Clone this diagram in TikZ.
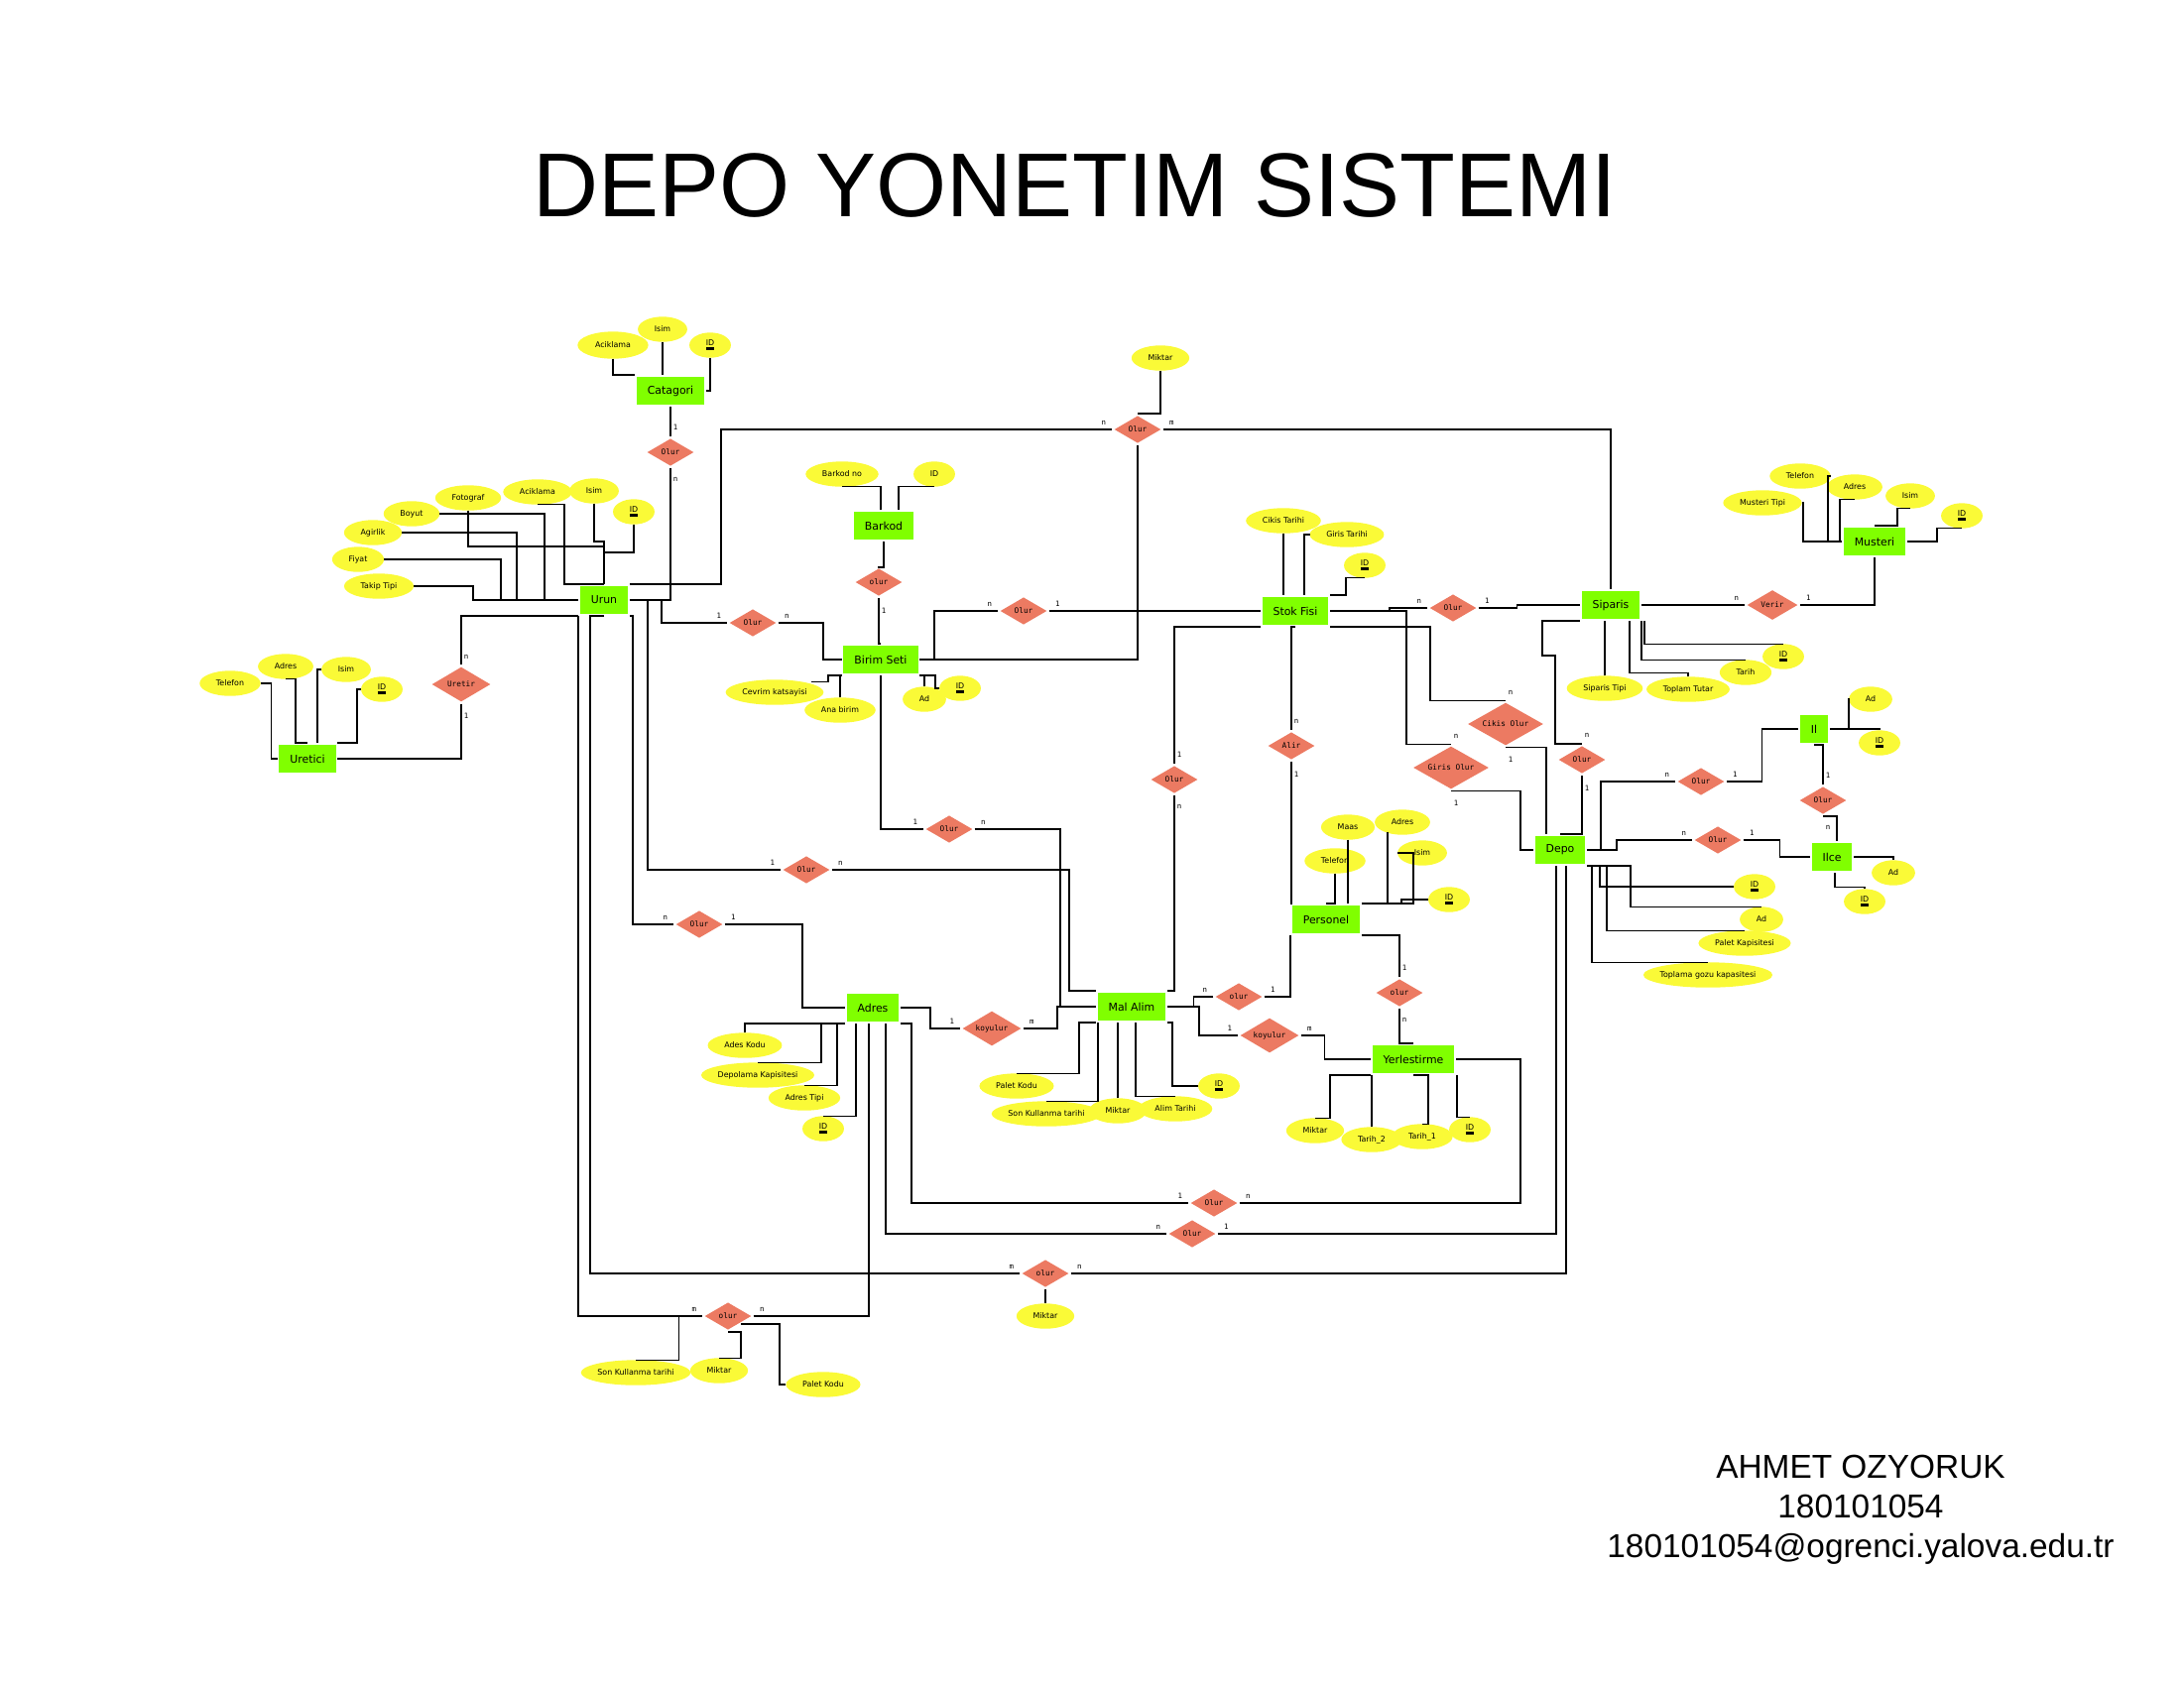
\documentclass[tikz,border=0pt]{standalone}
\usepackage{fontspec}
\setmainfont{Liberation Sans}
\newfontfamily\dejavu{DejaVu Sans}
\newfontfamily\dejamono{DejaVu Sans Mono}
\usetikzlibrary{shapes.geometric,positioning,calc,backgrounds}

\definecolor{entgreen}{RGB}{128,255,0}
\definecolor{attyellow}{RGB}{250,250,55}
\definecolor{relred}{RGB}{236,122,98}

\newcommand\entfont{\dejavu\fontsize{3.1}{3.7}\selectfont}
\newcommand\attfont{\dejavu\fontsize{2.25}{2.7}\selectfont}
\newcommand\relfont{\dejamono\fontsize{2.2}{2.6}\selectfont}
\newcommand\cardfont{\dejamono\fontsize{2.1}{2.5}\selectfont}

\newcommand\pk[1]{\setbox0\hbox{#1}\rlap{\copy0}\raisebox{-1.1pt}{\rule{\wd0}{0.75pt}}}
\newcommand\att[3]{\node[attr] (#1) at (#2) {#3};
  \begin{pgfonlayer}{background}
    \path[fill=attyellow] let \p1=($(#1.north east)-(#1.center)$) in (#1.center) ellipse [x radius=\x1, y radius=\y1];
  \end{pgfonlayer}}

\tikzset{
  ent/.style={rectangle, fill=entgreen, font=\entfont, inner xsep=0.11cm, inner ysep=0pt, minimum height=0.285cm},
  attr/.style={rectangle, font=\attfont, inner xsep=0.16cm, inner ysep=0pt, minimum height=0.24cm},
  rel/.style={diamond, aspect=2, fill=relred, font=\relfont, inner sep=0pt, minimum width=0.48cm, minimum height=0.285cm},
  relw/.style={rel, minimum width=0.6cm, minimum height=0.36cm},
  relx/.style={rel, minimum width=0.77cm, minimum height=0.44cm},
  card/.style={font=\cardfont, inner sep=0.6pt}
}

\begin{document}
\begin{tikzpicture}[x=0.01cm, y=-0.01cm, line width=0.95pt]
\useasboundingbox (0,0) rectangle (2202,1702);

\node[font=\fontsize{26}{30}\selectfont, anchor=base] (title) at (1084,218) {DEPO YONETIM SISTEMI};
\node[font=\fontsize{9.5}{11.4}\selectfont, align=center] (author) at (1876,1522) {AHMET OZYORUK\\180101054\\180101054@ogrenci.yalova.edu.tr};

% entities
\node[ent] (cat) at (676,394) {Catagori};
\node[ent] (urun) at (609,605) {Urun};
\node[ent] (uretici) at (310,765) {Uretici};
\node[ent] (barkod) at (891,530) {Barkod};
\node[ent] (bs) at (888,665) {Birim Seti};
\node[ent] (sf) at (1306,616) {Stok Fisi};
\node[ent] (siparis) at (1624,610) {Siparis};
\node[ent] (musteri) at (1890,546) {Musteri};
\node[ent] (depo) at (1573,857) {Depo};
\node[ent] (il) at (1829,735) {Il};
\node[ent] (ilce) at (1847,864) {Ilce};
\node[ent] (personel) at (1337,927) {Personel};
\node[ent] (yer) at (1425,1068) {Yerlestirme};
\node[ent] (malalim) at (1141,1015) {Mal Alim};
\node[ent] (adres) at (880,1016) {Adres};

% relations
\node[rel] (olCU) at (676,456) {Olur};
\node[relw] (uretir) at (465,690) {Uretir};
\node[rel] (olUB) at (759,628) {Olur};
\node[rel] (olTop) at (1147,433) {Olur};
\node[rel] (olBB) at (886,587) {olur};
\node[rel] (olBS) at (1032,616) {Olur};
\node[rel] (olSS) at (1465,613) {Olur};
\node[rel, minimum width=0.52cm, minimum height=0.31cm] (verir) at (1787,610) {Verir};
\node[relx] (cikis) at (1518,730) {Cikis Olur};
\node[relx] (giris) at (1463,774) {Giris Olur};
\node[rel] (olSD) at (1595,766) {Olur};
\node[rel] (olDI) at (1715,788) {Olur};
\node[rel] (olII) at (1838,807) {Olur};
\node[rel] (olDIl) at (1732,847) {Olur};
\node[rel] (alir) at (1302,752) {Alir};
\node[rel] (olSM) at (1184,786) {Olur};
\node[rel] (olPY) at (1411,1001) {olur};
\node[rel] (olMP) at (1249,1005) {olur};
\node[relw] (koyMY) at (1280,1044) {koyulur};
\node[relw] (koyAM) at (1000,1037) {koyulur};
\node[rel] (olBM) at (957,836) {Olur};
\node[rel] (olUM) at (813,877) {Olur};
\node[rel] (olUA) at (705,932) {Olur};
\node[rel] (olAY) at (1224,1213) {Olur};
\node[rel] (olAD) at (1202,1244) {Olur};
\node[rel] (olUD) at (1054,1284) {olur};
\node[rel] (olUA2) at (734,1327) {olur};

% attributes
\att{cac}{618,348}{Aciklama}
\att{cis}{668,332}{Isim}
\att{cid}{716,348}{\pk{ID}}
\att{foto}{472,502}{Fotograf}
\att{aciku}{542,496}{Aciklama}
\att{isu}{599,495}{Isim}
\att{idu}{639,516}{\pk{ID}}
\att{boyut}{415,518}{Boyut}
\att{agirlik}{376,537}{Agirlik}
\att{fiyat}{361,564}{Fiyat}
\att{takip}{382,591}{Takip Tipi}
\att{telr}{232,689}{Telefon}
\att{adrr}{288,672}{Adres}
\att{isr}{349,675}{Isim}
\att{idr}{385,695}{\pk{ID}}
\att{bno}{849,478}{Barkod no}
\att{bid}{942,478}{ID}
\att{cev}{781,698}{Cevrim katsayisi}
\att{ana}{847,716}{Ana birim}
\att{adbs}{932,705}{Ad}
\att{idbs}{968,694}{\pk{ID}}
\att{miktt}{1170,361}{Miktar}
\att{ct}{1294,525}{Cikis Tarihi}
\att{gt}{1358,539}{Giris Tarihi}
\att{idsf}{1376,570}{\pk{ID}}
\att{spt}{1618,694}{Siparis Tipi}
\att{tt}{1702,695}{Toplam Tutar}
\att{tarih}{1760,678}{Tarih}
\att{ids}{1798,662}{\pk{ID}}
\att{mtipi}{1777,507}{Musteri Tipi}
\att{telm}{1815,480}{Telefon}
\att{adm}{1870,491}{Adres}
\att{ism}{1926,500}{Isim}
\att{idm}{1978,520}{\pk{ID}}
\att{idd}{1769,894}{\pk{ID}}
\att{add}{1776,927}{Ad}
\att{pkd}{1759,951}{Palet Kapisitesi}
\att{tg}{1722,983}{Toplama gozu kapasitesi}
\att{adil}{1886,705}{Ad}
\att{idil}{1895,749}{\pk{ID}}
\att{adilce}{1909,880}{Ad}
\att{idilce}{1880,909}{\pk{ID}}
\att{maas}{1359,834}{Maas}
\att{adp}{1414,829}{Adres}
\att{telp}{1346,868}{Telefon}
\att{isp}{1434,860}{Isim}
\att{idp}{1461,907}{\pk{ID}}
\att{mity}{1326,1140}{Miktar}
\att{t1}{1434,1146}{Tarih\_1}
\att{t2}{1383,1149}{Tarih\_2}
\att{idy}{1482,1139}{\pk{ID}}
\att{pkm}{1025,1095}{Palet Kodu}
\att{skm}{1055,1123}{Son Kullanma tarihi}
\att{atm}{1185,1118}{Alim Tarihi}
\att{mkm}{1127,1120}{Miktar}
\att{idm2}{1229,1095}{\pk{ID}}
\att{adk}{751,1054}{Ades Kodu}
\att{depk}{764,1084}{Depolama Kapisitesi}
\att{adt}{811,1107}{Adres Tipi}
\att{ida}{830,1138}{\pk{ID}}
\att{miktud}{1054,1327}{Miktar}
\att{skb}{641,1384}{Son Kullanma tarihi}
\att{mb}{725,1382}{Miktar}
\att{pkb}{830,1396}{Palet Kodu}

% attribute links
\draw (cac.south) |- (cat.north west);
\draw (cis.south) -- (cis.south |- cat.north);
\draw (cid.south) |- (cat.east);
\draw (boyut.east) -| ($(urun.west)+(-34,0)$) -- (urun.west);
\draw (agirlik.east) -| ($(urun.west)+(-62,0)$) -- (urun.west);
\draw (fiyat.east) -| ($(urun.west)+(-78,0)$) -- (urun.west);
\draw (takip.east) -| ($(urun.west)+(-106,0)$) -- (urun.west);
\draw (foto.south) |- ($(urun.north)+(0,-38)$) -- (urun.north);
\draw (aciku.south) -- ++(27,0) |- (urun.north);
\draw (isu.south) |- ($(urun.north)+(0,-43)$) -- (urun.north);
\draw (idu.south) |- ($(urun.north)+(0,-32)$) -- (urun.north);
\draw (telr.east) -| ($(uretici.west)+(-6,0)$) -- (uretici.west);
\draw (adrr.south) -- ++(10,0) |- (uretici.north);
\draw (isr.west) -| ($(uretici.north)+(10,0)$);
\draw (idr.west) -- ++(-4,0) |- (uretici.north east);
\draw (bno.south) -| ($(barkod.north)+(-3,0)$);
\draw (bid.south) -| ($(barkod.north)+(15,0)$);
\draw ($(cev.north)+(37,2)$) -| ($(bs.south west)+(-14,0)$) -- (bs.south west);
\draw (ana.north) |- (bs.south west);
\draw (adbs.north) |- (bs.south east);
\draw (idbs.west) -| ($(bs.south east)+(16,0)$) -- (bs.south east);
\draw (miktt.south) |- (olTop.north);
\draw (ct.south) -- (ct.south |- sf.north);
\draw (gt.west) -| ($(sf.north)+(9,0)$);
\draw (idsf.south) -- ++(-19,0) |- (sf.north east);
\draw (spt.north) -- (spt.north |- siparis.south);
\draw (tt.north) -- ++(0,-4) -| ($(siparis.south)+(19,0)$);
\draw (tarih.north) -| (siparis.south east);
\draw (ids.north) -| ($(siparis.south east)+(3,0)$);
\draw (mtipi.east) -| ($(musteri.west)+(-39,0)$) -- (musteri.west);
\draw (telm.east) -| ($(musteri.west)+(-14,0)$);
\draw (adm.south) -| ($(musteri.west)+(-2,0)$);
\draw (ism.south) -- ++(-13,0) |- (musteri.north);
\draw (idm.south) -- ++(-25,0) |- (musteri.east);
\draw (idd.west) -| ($(depo.south east)+(13,0)$);
\draw (add.north) -| ($(depo.south east)+(44,0)$) -- (depo.south east);
\draw (pkd.north) -| ($(depo.south east)+(20,0)$);
\draw (tg.north) -| ($(depo.south east)+(5,0)$);
\draw (adil.west) -| ($(il.east)+(19,0)$) -- (il.east);
\draw (idil.north) |- (il.east);
\draw (adilce.north) |- (ilce.east);
\draw (idilce.north) -- ++(0,-2) -| ($(ilce.south)+(3,0)$);
\draw (maas.south) -- (maas.south |- personel.north);
\draw (telp.south) |- (personel.north);
\draw ($(adp.south)+(-15,-3)$) |- (personel.north east);
\draw (isp.west) -| ($(personel.north east)+(52,0)$) -- (personel.north east);
\draw (idp.west) -| ($(personel.north east)+(40,0)$);
\draw (mity.north) -| ($(yer.south west)+(-41,0)$) -- (yer.south west);
\draw (t2.north) -- (t2.north |- yer.south);
\draw (t1.north) -- ++(6,0) |- (yer.south);
\draw (idy.north) -| ($(yer.south east)+(1,0)$);
\draw (pkm.north) -| ($(malalim.south west)+(-17,0)$) -- (malalim.south west);
\draw (skm.north) -| ($(malalim.south west)+(2,0)$);
\draw (mkm.north) -- (mkm.north |- malalim.south);
\draw (atm.north) -| ($(malalim.south)+(4,0)$);
\draw (idm2.west) -| ($(malalim.south east)+(5,0)$) -- (malalim.south east);
\draw (adk.north) |- (adres.south west);
\draw (depk.north) -| ($(adres.south west)+(-24,0)$);
\draw (adt.north) -| ($(adres.south west)+(-8,0)$);
\draw (ida.north) -| ($(adres.south west)+(11,0)$);
\draw (olUD.south) -- (miktud.north);
\draw (skb.north) -| ($(olUA2.west)+(-24,0)$);
\draw (mb.north) -- ++(22,0) |- (olUA2.south);
\draw (pkb.west) -| ($(olUA2.south east)+(39,0)$) -- (olUA2.south east);

% relation links
\draw (cat.south) -- (olCU.north);
\draw (olCU.south) |- (urun.east);
\draw (uretici.east) -| (uretir.south);
\draw (uretir.north) |- (urun.south west);
\draw (urun.east) -- ++(32,0) |- (olUB.west);
\draw (olUB.east) -| ($(bs.west)+(-19,0)$) -- (bs.west);
\draw (urun.north east) -- ++(92,0) |- (olTop.west);
\draw (olTop.east) -| (siparis.north);
\draw (olTop.south) |- (bs.east);
\draw (barkod.south) -- ++(0,26) -| (olBB.north);
\draw (olBB.south) |- (bs.north);
\draw (bs.east) -- ++(15,0) |- (olBS.west);
\draw (olBS.east) -- (sf.west);
\draw (sf.east) -- ++(60,0) |- (olSS.west);
\draw (olSS.east) -- ++(39,0) |- (siparis.west);
\draw (siparis.east) -- (verir.west);
\draw (verir.east) -| (musteri.south);
\draw (sf.east) -- ++(77,0) |- (giris.north);
\draw (sf.south east) -- ++(101,0) |- (cikis.north);
\draw (giris.south) -| ($(depo.west)+(-13,0)$) -- (depo.west);
\draw (cikis.south) -| ($(depo.north)+(-14,0)$);
\draw (siparis.south west) -- ++(-38,0) -- ++(0,35) -- ++(13,0) |- (olSD.north);
\draw (olSD.south) |- (depo.north);
\draw (depo.east) -- ++(14,0) |- (olDI.west);
\draw (olDI.east) -- ++(36,0) |- (il.west);
\draw (depo.east) -- ++(30,0) |- (olDIl.west);
\draw (olDIl.east) -- ++(37,0) |- (ilce.west);
\draw (il.south) -| (olII.north);
\draw (olII.south) -| ($(ilce.north)+(5,0)$);
\draw (sf.south) -| (alir.north);
\draw (alir.south) |- (personel.north west);
\draw (sf.south west) -| (olSM.north);
\draw (olSM.south) |- (malalim.north east);
\draw (personel.south east) -| (olPY.north);
\draw (olPY.south) |- (yer.north);
\draw (olMP.east) -| (personel.south west);
\draw (olMP.west) -- ++(-20,0) |- (malalim.east);
\draw (malalim.east) -- ++(32,0) |- (koyMY.west);
\draw (koyMY.east) -- ++(24,0) |- (yer.west);
\draw (adres.east) -- ++(30,0) |- (koyAM.west);
\draw (koyAM.east) -| ($(malalim.west)+(-39,0)$) -- (malalim.west);
\draw (bs.south) |- (olBM.west);
\draw (olBM.east) -| ($(malalim.west)+(-36,0)$) -- (malalim.west);
\draw (urun.east) -- ++(18,0) |- (olUM.west);
\draw (olUM.east) -| ($(malalim.north west)+(-27,0)$) -- (malalim.north west);
\draw (urun.south east) -- ++(3,0) |- (olUA.west);
\draw (olUA.east) -| ($(adres.west)+(-43,0)$) -- (adres.west);
\draw (adres.south east) -- ++(11,0) |- (olAY.west);
\draw (olAY.east) -| ($(yer.east)+(65,0)$) -- (yer.east);
\draw ($(adres.south)+(13,0)$) |- (olAD.west);
\draw (olAD.east) -| ($(depo.south)+(-4,0)$);
\draw (urun.south) -- ++(-14,0) |- (olUD.west);
\draw (olUD.east) -| ($(depo.south)+(6,0)$);
\draw (urun.south west) |- (olUA2.west);
\draw (olUA2.east) -| ($(adres.south)+(-4,0)$);

% cardinalities
\foreach \r/\a/\b in {olUB/1/n, olTop/n/m, olBS/n/1, olSS/n/1, verir/n/1, olDI/n/1, olDIl/n/1, olMP/n/1,
    koyMY/1/m, koyAM/1/m, olBM/1/n, olUM/1/n, olUA/n/1, olAY/1/n, olAD/n/1, olUD/m/n, olUA2/m/n} {
    \node[card, above left=0.5pt and 1pt of \r.west] {\a};
    \node[card, above right=0.5pt and 1pt of \r.east] {\b};
}
\foreach \r/\a/\b in {olCU/1/n, uretir/n/1, cikis/n/1, giris/n/1, olSD/n/1, olII/1/n, alir/n/1, olSM/1/n, olPY/1/n} {
    \node[card, above right=1pt and 0pt of \r.north] {\a};
    \node[card, below right=2pt and 0pt of \r.south] {\b};
}
\node[card, below right=2pt and 0pt of olBB.south] {1};
\end{tikzpicture}
\end{document}
